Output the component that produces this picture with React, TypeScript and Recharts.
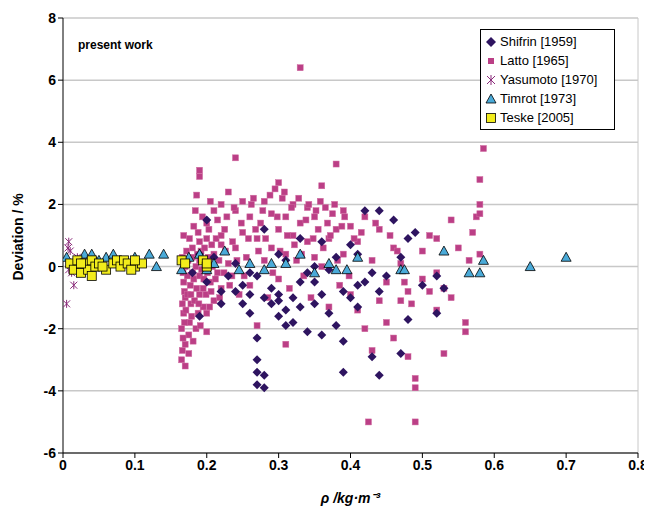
import React from 'react';
import { ScatterChart, Scatter, XAxis, YAxis, CartesianGrid, ReferenceLine } from 'recharts';

const shifrin: [number, number][] = [
  [0.18, -0.2], [0.19, -1.6], [0.19, 0.4], [0.2, 1.5], [0.2, -0.5], [0.21, 0.3], [0.22, -0.8], [0.23, -0.3], [0.24, 0.1],
  [0.25, -0.6], [0.25, -1.2], [0.26, -0.9], [0.26, -1.5], [0.27, -2.3], [0.27, -3.0], [0.27, -3.4], [0.27, -3.8], [0.28, -3.5], [0.28, -3.9],
  [0.27, -0.3], [0.28, -1.0], [0.28, 1.2], [0.29, -1.2], [0.29, -0.7], [0.3, 0.4], [0.3, -0.9], [0.31, -1.4], [0.32, -1.0], [0.32, -1.8],
  [0.33, 0.9], [0.33, -0.5], [0.33, -1.3], [0.34, -0.2], [0.35, -0.5], [0.35, -1.2], [0.36, 0.8], [0.36, -2.2], [0.37, -0.1], [0.38, -1.9],
  [0.38, 0.3], [0.39, -0.8], [0.39, -2.4], [0.39, -3.4], [0.4, -1.0], [0.41, 0.4], [0.41, -1.3], [0.42, 1.8], [0.42, -0.5], [0.43, -2.9],
  [0.44, 1.8], [0.44, -0.8], [0.44, -3.5], [0.46, 1.5], [0.47, 0.3], [0.47, -2.8], [0.48, -1.7], [0.48, 0.9], [0.49, 1.1], [0.5, -0.6],
  [0.52, -0.3], [0.52, -1.5], [0.53, -0.7], [0.22, -1.2], [0.24, -0.8], [0.31, 0.2], [0.34, -2.1], [0.37, -1.5], [0.4, 0.7], [0.45, -0.3],
  [0.3, -1.6], [0.31, -1.9], [0.3, -1.1], [0.36, -0.9], [0.26, -0.2], [0.35, 0.0], [0.41, -0.6], [0.43, -0.2],
];

const latto: [number, number][] = [
  [0.165, -3.0], [0.17, -3.2], [0.17, -2.5], [0.165, -2.0], [0.168, -1.5], [0.17, -1.0], [0.168, -0.5], [0.17, 0.0], [0.172, 0.5], [0.168, 1.0],
  [0.175, -2.8], [0.175, -2.2], [0.176, -1.8], [0.178, -1.2], [0.177, -0.6], [0.18, -0.2], [0.18, 0.6], [0.182, 1.3], [0.184, 1.8], [0.186, 2.3],
  [0.185, -2.0], [0.188, -1.5], [0.19, -0.9], [0.19, -0.3], [0.19, 0.2], [0.19, 0.8], [0.19, 2.9], [0.19, 3.1], [0.195, -1.3], [0.195, -0.7],
  [0.198, 0.1], [0.2, 0.9], [0.2, -2.1], [0.2, 1.4], [0.205, -0.5], [0.205, 2.1], [0.21, 0.4], [0.21, -1.1], [0.215, 1.5], [0.215, -0.2],
  [0.22, 2.0], [0.22, 0.7], [0.22, -0.7], [0.225, 1.2], [0.23, 0.1], [0.23, 2.4], [0.235, -0.3], [0.24, 1.8], [0.24, 3.5], [0.24, 0.6],
  [0.245, -0.9], [0.25, 1.1], [0.25, 2.1], [0.255, 0.3], [0.26, 1.6], [0.26, -0.6], [0.265, 2.2], [0.27, 0.9], [0.27, -1.9], [0.275, 1.4],
  [0.28, 0.2], [0.28, 2.1], [0.285, -1.0], [0.29, 1.7], [0.29, 0.6], [0.295, 2.5], [0.3, 2.7], [0.3, 1.2], [0.3, -0.4], [0.305, 2.2],
  [0.31, 1.6], [0.31, 0.4], [0.31, -2.5], [0.315, -0.7], [0.32, 1.0], [0.32, 2.0], [0.325, 0.2], [0.33, 6.4], [0.33, 1.4], [0.335, -0.3],
  [0.34, 0.8], [0.34, 1.9], [0.345, -1.0], [0.35, 1.6], [0.35, 0.3], [0.355, 1.2], [0.36, 2.6], [0.36, 0.0], [0.365, 1.9], [0.37, -1.3],
  [0.37, 0.9], [0.375, 1.7], [0.38, 3.3], [0.38, 1.2], [0.385, -0.6], [0.39, 1.8], [0.39, 0.4], [0.4, -0.9], [0.4, 1.3], [0.41, -1.4],
  [0.41, 0.8], [0.42, 1.6], [0.42, -2.0], [0.425, -5.0], [0.43, 0.2], [0.43, -2.7], [0.44, -1.1], [0.44, 1.2], [0.45, -0.5], [0.45, -1.8],
  [0.46, 0.6], [0.46, -2.3], [0.47, -1.1], [0.47, 0.1], [0.48, -0.8], [0.48, -2.9], [0.49, -3.6], [0.49, -3.9], [0.49, -5.0], [0.5, 0.5],
  [0.5, -0.4], [0.51, 1.0], [0.52, -0.2], [0.52, 0.9], [0.53, -0.7], [0.53, -2.8], [0.54, -1.0], [0.54, 1.5], [0.55, 0.6], [0.56, -1.8],
  [0.56, -2.1], [0.565, 0.2], [0.57, 1.1], [0.575, 1.6], [0.58, 2.0], [0.58, 2.8], [0.585, 3.8], [0.58, 0.4], [0.58, 1.7], [0.2, -1.5],
  [0.166, -2.7], [0.167, -2.3], [0.169, -1.8], [0.166, -1.2], [0.169, -0.8], [0.167, -0.2], [0.166, 0.3], [0.171, -1.4], [0.173, -0.9], [0.173, -0.3],
  [0.174, 0.2], [0.176, 0.9], [0.178, -0.9], [0.179, -1.6], [0.181, -2.4], [0.18, 0.3], [0.182, -0.4], [0.183, -1.1], [0.185, 0.0], [0.186, -0.7],
  [0.187, 0.4], [0.188, 1.1], [0.189, -1.2], [0.191, -1.9], [0.192, 0.5], [0.193, -0.1], [0.194, 1.6], [0.196, -0.4], [0.197, 0.6], [0.199, -0.9],
  [0.201, -0.2], [0.202, 0.3], [0.203, 1.2], [0.204, -1.3], [0.206, -0.8], [0.207, 0.7], [0.208, 0.0], [0.21, 1.8], [0.212, -0.4], [0.213, 0.9],
  [0.217, 0.2], [0.218, -1.0], [0.22, 1.0], [0.224, -0.2], [0.226, 0.5], [0.228, 1.6], [0.232, -0.6], [0.236, 0.8], [0.238, 1.9], [0.242, 0.2],
  [0.248, 1.4], [0.252, -0.3], [0.258, 0.9], [0.262, 2.0], [0.268, 1.2], [0.272, 0.5], [0.278, 1.8], [0.282, 0.9], [0.288, 2.3], [0.292, -0.2],
  [0.298, 1.6], [0.302, 0.5], [0.308, 2.4], [0.312, 1.0], [0.318, 1.9], [0.322, 0.7], [0.328, 2.2], [0.332, 0.4], [0.338, 1.5], [0.342, 2.0],
  [0.348, 0.9], [0.352, 1.8], [0.358, 2.1], [0.362, 0.6], [0.368, 1.4], [0.372, 1.0], [0.378, 2.0], [0.382, 0.2], [0.388, 1.3], [0.392, 1.6],
  [0.398, -0.3], [0.405, 0.9], [0.415, 1.1], [0.435, 1.4], [0.455, 1.0], [0.465, 0.5], [0.475, -0.5], [0.485, -1.2], [0.51, -0.8], [0.52, -1.4],
];

const yasumoto: [number, number][] = [
  [0.005, -1.2], [0.007, 0.6], [0.008, 0.8], [0.01, 0.5], [0.012, -0.2], [0.015, -0.6], [0.018, 0.1], [0.008, -0.1], [0.02, 0.3],
];

const timrot: [number, number][] = [
  [0.005, 0.3], [0.015, 0.1], [0.03, 0.4], [0.04, 0.4], [0.05, 0.2], [0.06, 0.3], [0.07, 0.4], [0.09, 0.1], [0.1, 0.3], [0.12, 0.4],
  [0.13, 0.0], [0.14, 0.4], [0.175, 0.3], [0.19, 0.4], [0.2, -0.1], [0.21, 0.1], [0.225, 0.5], [0.245, -0.1], [0.26, 0.1], [0.28, -0.1],
  [0.31, 0.1], [0.33, 0.4], [0.35, -0.2], [0.37, 0.1], [0.38, -0.1], [0.395, -0.1], [0.41, 0.3], [0.47, -0.1], [0.475, -0.1], [0.53, 0.5],
  [0.565, -0.2], [0.58, -0.2], [0.585, 0.2], [0.65, 0.0], [0.7, 0.3], [0.29, 0.1], [0.165, -0.1],
];

const teske: [number, number][] = [
  [0.01, 0.1], [0.015, -0.1], [0.02, 0.2], [0.025, -0.2], [0.03, 0.1], [0.035, -0.1], [0.04, 0.2], [0.045, 0.0], [0.05, 0.1], [0.06, -0.1],
  [0.07, 0.1], [0.075, 0.2], [0.08, 0.0], [0.085, 0.2], [0.09, 0.1], [0.1, 0.0], [0.11, 0.1], [0.025, 0.1], [0.055, 0.0], [0.095, -0.1],
  [0.165, 0.2], [0.17, 0.1], [0.195, 0.2], [0.2, 0.0], [0.2, 0.1], [0.04, -0.3], [0.1, 0.2],
];

const xTicks = [0, 0.1, 0.2, 0.3, 0.4, 0.5, 0.6, 0.7, 0.8];
const yTicks = [-6, -4, -2, 0, 2, 4, 6, 8];

const toPts = (a: [number, number][]) => a.map(([x, y]) => ({ x, y }));

const Diamond = (p: any) => <polygon points={`${p.cx},${p.cy - 4.5} ${p.cx + 4.5},${p.cy} ${p.cx},${p.cy + 4.5} ${p.cx - 4.5},${p.cy}`} fill="#2e1460" />;
const Square = (p: any) => <rect x={p.cx - 3} y={p.cy - 3} width={6} height={6} fill="#bb3f86" stroke="#d06aa0" strokeWidth={0.5} />;
const Star = (p: any) => (
  <g stroke="#8a2a7a" strokeWidth={1}>
    <line x1={p.cx - 3.5} y1={p.cy - 3.5} x2={p.cx + 3.5} y2={p.cy + 3.5} />
    <line x1={p.cx - 3.5} y1={p.cy + 3.5} x2={p.cx + 3.5} y2={p.cy - 3.5} />
    <line x1={p.cx} y1={p.cy - 4} x2={p.cx} y2={p.cy + 4} />
  </g>
);
const Tri = (p: any) => <polygon points={`${p.cx},${p.cy - 5} ${p.cx + 5},${p.cy + 4} ${p.cx - 5},${p.cy + 4}`} fill="#4aaad8" stroke="#000" strokeWidth={0.8} />;
const Box = (p: any) => <rect x={p.cx - 4.5} y={p.cy - 4.5} width={9} height={9} fill="#f2ec1c" stroke="#000" strokeWidth={0.8} />;

const legend = [
  { name: 'Shifrin [1959]', icon: <polygon points="6,1 11,6 6,11 1,6" fill="#2e1460" /> },
  { name: 'Latto [1965]', icon: <rect x={3} y={3} width={6} height={6} fill="#bb3f86" /> },
  { name: 'Yasumoto [1970]', icon: <g stroke="#8a2a7a"><line x1={2} y1={2} x2={10} y2={10} /><line x1={2} y1={10} x2={10} y2={2} /><line x1={6} y1={1} x2={6} y2={11} /></g> },
  { name: 'Timrot [1973]', icon: <polygon points="6,1 11,10 1,10" fill="#4aaad8" stroke="#000" strokeWidth={0.8} /> },
  { name: 'Teske [2005]', icon: <rect x={1.5} y={1.5} width={9} height={9} fill="#f2ec1c" stroke="#000" strokeWidth={0.8} /> },
];

const tick = { fill: '#000', fontSize: 14, fontWeight: 'bold' as const };

export default function App() {
  return (
    <div style={{ position: 'relative', width: 652, height: 514, margin: -8, fontFamily: 'Liberation Sans, Arial, sans-serif', background: '#fff' }}>
      <ScatterChart width={652} height={514} margin={{ top: 18, right: 14, bottom: 31, left: 8 }}>
        <CartesianGrid horizontal vertical={false} stroke="#c8c8c8" strokeWidth={1.5} />
        <XAxis type="number" dataKey="x" domain={[0, 0.8]} ticks={xTicks} tick={tick} height={30}
          stroke="#000" tickLine={{ stroke: '#000' }} tickSize={5} allowDataOverflow
          label={{ value: 'ρ /kg·m⁻³', position: 'insideBottom', offset: -20, style: { fontWeight: 'bold', fontStyle: 'italic', fontSize: 14, fill: '#000' } }} />
        <YAxis type="number" dataKey="y" domain={[-6, 8]} ticks={yTicks} tick={tick} width={55}
          stroke="#000" tickLine={{ stroke: '#000' }} tickSize={5}
          label={{ value: 'Deviation / %', angle: -90, position: 'insideLeft', offset: 10, dy: 45, style: { fontWeight: 'bold', fontSize: 14, fill: '#000' } }} />
        <ReferenceLine x={0.8} stroke="#c8c8c8" />
        <Scatter data={toPts(latto)} shape={Square} isAnimationActive={false} />
        <Scatter data={toPts(shifrin)} shape={Diamond} isAnimationActive={false} />
        <Scatter data={toPts(yasumoto)} shape={Star} isAnimationActive={false} />
        <Scatter data={toPts(timrot)} shape={Tri} isAnimationActive={false} />
        <Scatter data={toPts(teske)} shape={Box} isAnimationActive={false} />
      </ScatterChart>
      <div style={{ position: 'absolute', left: 78, top: 38, fontSize: 12, fontWeight: 'bold' }}>present work</div>
      <div style={{ position: 'absolute', left: 480, top: 29, width: 125, border: '1px solid #000', background: '#fff', padding: '2px 4px', fontSize: 13 }}>
        {legend.map((l) => (
          <div key={l.name} style={{ display: 'flex', alignItems: 'center', height: 19 }}>
            <svg width={12} height={12} style={{ marginRight: 3 }}>{l.icon}</svg>
            {l.name}
          </div>
        ))}
      </div>
    </div>
  );
}
